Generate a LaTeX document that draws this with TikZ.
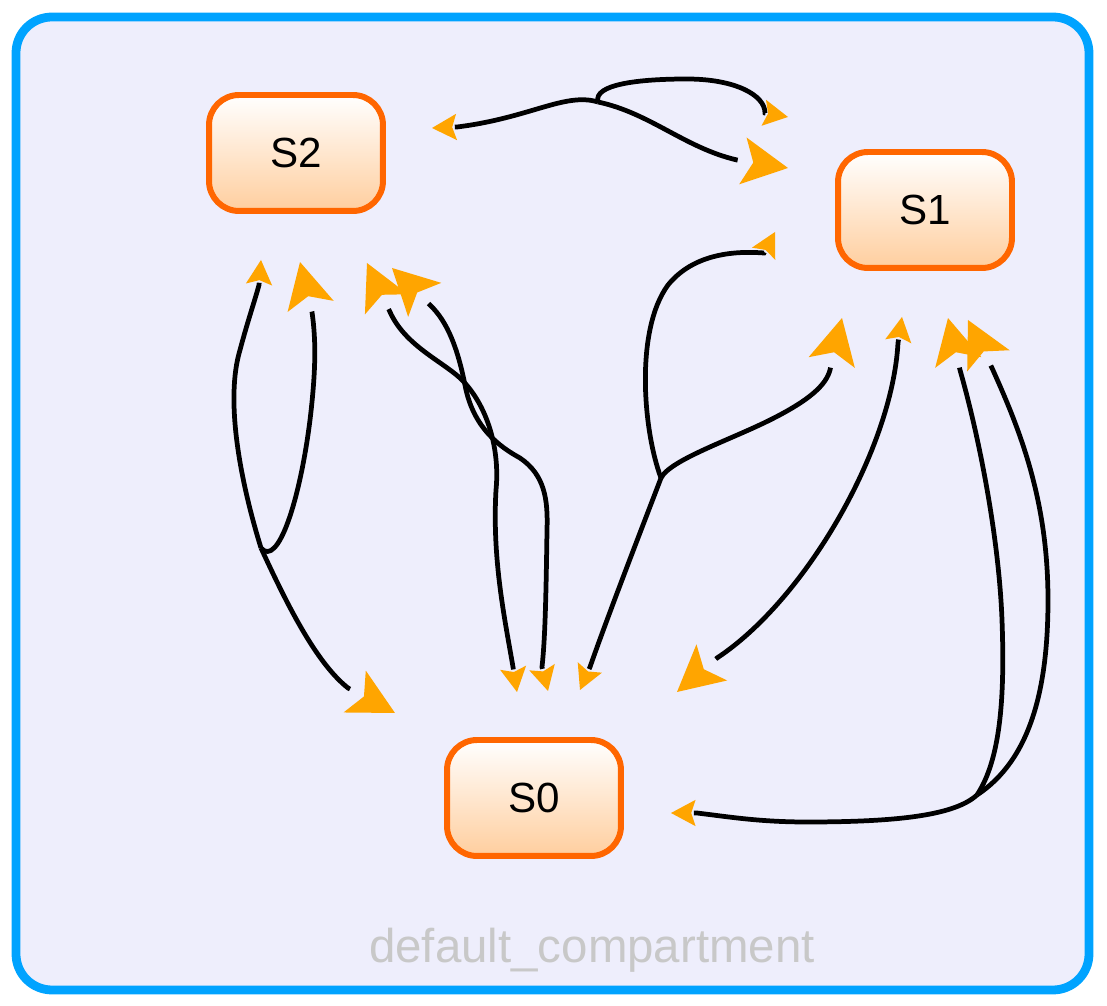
\documentclass[tikz,border=0pt]{standalone}
\usepackage{fontspec}
\setmainfont{Liberation Sans}
\usepackage{tikz}
\usetikzlibrary{arrows.meta,decorations.markings}
\definecolor{compblue}{RGB}{0,163,255}
\definecolor{compfill}{RGB}{238,238,252}
\definecolor{compgray}{RGB}{200,200,200}
\definecolor{specborder}{RGB}{255,102,0}
\definecolor{specpeach}{RGB}{255,206,158}
\definecolor{tiporange}{RGB}{255,165,0}

\begin{document}
\begin{tikzpicture}[x=0.02cm,y=-0.02cm,
        species/.style={draw=specborder,line width=3.4pt,rounded corners=0.6cm,top color=white,bottom color=specpeach,minimum width=3.48cm,minimum height=2.32cm,font=\fontsize{24}{28}\selectfont},
        rxn/.style={line width=2.7pt,black},
        smalltip/.tip={Stealth[tiporange,length=14pt,width=15pt,inset=2.5pt,line width=0pt]},
        bigtip/.tip={Stealth[tiporange,length=26pt,width=27pt,inset=6pt,line width=0pt]},
        tosmall/.style={shorten >=13pt,postaction={decorate,decoration={markings,mark=at position 1 with {\arrow{smalltip}}}}},
        tobig/.style={shorten >=29pt,postaction={decorate,decoration={markings,mark=at position 1 with {\arrow{bigtip}}}}},
        fromsmall/.style={shorten <=13pt,postaction={decorate,decoration={markings,mark=at position 0 with {\arrowreversed{smalltip}}}}},
        frombig/.style={shorten <=29pt,postaction={decorate,decoration={markings,mark=at position 0 with {\arrowreversed{bigtip}}}}}]
                \useasboundingbox (0,0) rectangle (1107,1006);
                \draw[draw=compblue,fill=compfill,line width=5pt,rounded corners=0.72cm] (16,17) rectangle (1089,990);
                \node[species] (S2) at (296,153) {S2};
                \node[species] (S1) at (925,210) {S1};
                \node[species] (S0) at (534,798) {S0};
                \node[text=compgray,font=\fontsize{27}{32}\selectfont,anchor=base] (label) at (592,963) {default\_compartment};
                \coordinate (j1) at (598,102);
                \coordinate (j2) at (261,548);
                \coordinate (j3) at (661,478);
                \coordinate (j4) at (977,795);
                \coordinate (t1) at (432,128); \coordinate (t2) at (788,117); \coordinate (t3) at (788,168);
                \coordinate (t4) at (261,260); \coordinate (t5) at (300,262); \coordinate (t6) at (395,713);
                \coordinate (t7) at (367,263); \coordinate (t8) at (517,692);
                \coordinate (t9) at (392,268); \coordinate (t10) at (548,691);
                \coordinate (t11) at (580,690); \coordinate (t12) at (775,232); \coordinate (t13) at (842,318);
                \coordinate (t14) at (902,317); \coordinate (t15) at (677,692);
                \coordinate (t16) at (671,813); \coordinate (t17) at (948,318); \coordinate (t18) at (968,320);
                \draw[rxn,tosmall] (j1) .. controls (565,92) and (530,118) .. (457,127) -- (t1);
                \draw[rxn,tosmall] (j1) .. controls (593,84) and (640,79) .. (687,79) .. controls (735,79) and (765,95) .. (765,113) -- (t2);
                \draw[rxn,tobig] (j1) .. controls (650,113) and (685,148) .. (737,160) -- (t3);
                \draw[rxn,tosmall] (j2) .. controls (240,480) and (225,400) .. (240,350) .. controls (248,320) and (255,300) .. (259,285) -- (t4);
                \draw[rxn,tobig] (j2) .. controls (278,568) and (300,500) .. (310,420) .. controls (316,370) and (316,340) .. (312,312) -- (t5);
                \draw[rxn,tobig] (j2) .. controls (285,600) and (315,662) .. (348,688) -- (t6);
                \draw[rxn,frombig,tosmall] (t7) -- (390,312) .. controls (405,345) and (440,360) .. (460,378) .. controls (488,405) and (500,450) .. (496,490) .. controls (492,560) and (505,620) .. (513,667) -- (t8);
                \draw[rxn,frombig,tosmall] (t9) -- (430,305) .. controls (448,322) and (458,350) .. (465,385) .. controls (473,428) and (500,447) .. (520,458) .. controls (545,475) and (548,500) .. (547,530) .. controls (546,600) and (545,640) .. (542,667) -- (t10);
                \draw[rxn,tosmall] (j3) .. controls (645,520) and (610,610) .. (590,667) -- (t11);
                \draw[rxn,tosmall] (j3) .. controls (643,430) and (635,330) .. (668,285) .. controls (690,258) and (725,250) .. (764,253) -- (t12);
                \draw[rxn,tobig] (j3) .. controls (670,460) and (730,440) .. (770,420) .. controls (810,400) and (826,385) .. (830,370) -- (t13);
                \draw[rxn,fromsmall,tobig] (t14) -- (898,343) .. controls (892,450) and (805,600) .. (717,658) -- (t15);
                \draw[rxn,tosmall] (j4) .. controls (955,815) and (900,822) .. (807,822) .. controls (760,822) and (730,817) .. (697,813) -- (t16);
                \draw[rxn,tobig] (j4) .. controls (1000,760) and (1005,700) .. (1002,620) .. controls (999,540) and (980,440) .. (960,370) -- (t17);
                \draw[rxn,tobig] (j4) .. controls (1030,760) and (1048,690) .. (1048,600) .. controls (1048,500) and (1020,430) .. (992,368) -- (t18);
            \end{tikzpicture}
\end{document}
